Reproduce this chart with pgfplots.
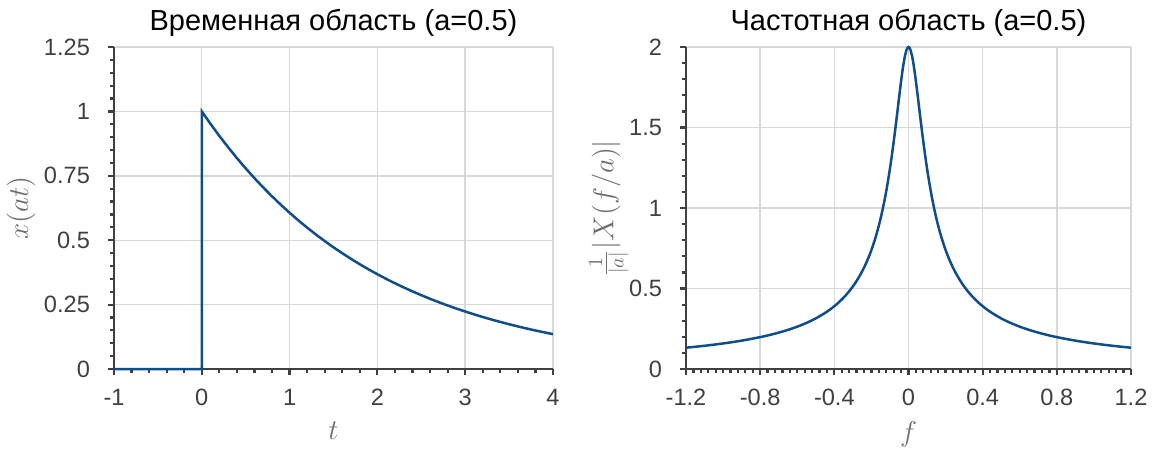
\documentclass[border=0pt]{standalone}
\usepackage{fontspec}
\setmainfont{Liberation Sans}
\usepackage{pgfplots}
\pgfplotsset{compat=1.18}
\definecolor{lineblue}{RGB}{16,78,139}
\definecolor{axgray}{RGB}{64,64,64}
\definecolor{lblgray}{RGB}{110,110,110}
\definecolor{gridgray}{RGB}{216,216,216}
\pgfplotsset{
  mystyle/.style={
    scale only axis,
    height=161pt,
    axis lines*=left,
    axis line style={axgray, line width=1.1pt},
    tick align=outside,
    major tick length=3pt,
    minor tick length=2.2pt,
    tick style={axgray, line width=1.1pt},
    grid=major,
    major grid style={gridgray, line width=0.7pt},
    ticklabel style={font=\fontsize{11.8}{13}\selectfont, text=axgray},
    xticklabel style={yshift=-3.5pt},
    yticklabel style={xshift=-5.5pt},
    label style={text=lblgray},
    title style={font=\fontsize{14.5}{16}\selectfont, text=black, yshift=-4.5pt},
    xlabel style={font=\fontsize{14}{16}\selectfont, yshift=-1pt},
    ylabel style={font=\fontsize{14}{16}\selectfont},
    clip=false,
  }
}
\begin{document}
\begin{tikzpicture}
\path[use as bounding box] (-57pt,-41.5pt) rectangle (521.5pt,184.5pt);
\begin{axis}[mystyle,
  at={(0pt,0pt)}, anchor=south west,
  width=219.5pt,
  xmin=-1, xmax=4, ymin=0, ymax=1.25,
  xtick={-1,0,1,2,3,4}, xticklabels={-1,0,1,2,3,4},
  ytick={0,0.25,0.5,0.75,1,1.25}, yticklabels={0,0.25,0.5,0.75,1,1.25},
  minor x tick num=4, minor y tick num=4,
  title={Временная область (a=0.5)},
  xlabel={$t$}, ylabel={$x(at)$},
  ylabel style={yshift=-2.5pt},
]
\addplot[lineblue, line width=1.25pt] coordinates {
(-1,0) (0,0) (0,1)
(0.1,0.951229) (0.2,0.904837) (0.3,0.860708) (0.4,0.818731) (0.5,0.778801)
(0.6,0.740818) (0.7,0.704688) (0.8,0.670320) (0.9,0.637628) (1.0,0.606531)
(1.1,0.576950) (1.2,0.548812) (1.3,0.522046) (1.4,0.496585) (1.5,0.472367)
(1.6,0.449329) (1.7,0.427415) (1.8,0.406570) (1.9,0.386741) (2.0,0.367879)
(2.1,0.349938) (2.2,0.332871) (2.3,0.316637) (2.4,0.301194) (2.5,0.286505)
(2.6,0.272532) (2.7,0.259240) (2.8,0.246597) (2.9,0.234570) (3.0,0.223130)
(3.1,0.212248) (3.2,0.201897) (3.3,0.192050) (3.4,0.182684) (3.5,0.173774)
(3.6,0.165299) (3.7,0.157237) (3.8,0.149569) (3.9,0.142274) (4.0,0.135335)
};
\end{axis}
\begin{axis}[mystyle,
  at={(286pt,0pt)}, anchor=south west,
  width=222.5pt,
  xmin=-1.2, xmax=1.2, ymin=0, ymax=2,
  xtick={-1.2,-0.8,-0.4,0,0.4,0.8,1.2}, xticklabels={-1.2,-0.8,-0.4,0,0.4,0.8,1.2},
  ytick={0,0.5,1,1.5,2}, yticklabels={0,0.5,1,1.5,2},
  minor x tick num=9, minor y tick num=4,
  title={Частотная область (a=0.5)},
  xlabel={$f$}, ylabel={$\frac{1}{|a|}|X(f/a)|$},
  ylabel style={yshift=-6.5pt},
]
\addplot[lineblue, line width=1.25pt, smooth] coordinates {
(-1.2,0.13234) (-1.1,0.14431) (-1.0,0.15865) (-0.9,0.17615) (-0.8,0.19797)
(-0.75,0.21102) (-0.7,0.22591) (-0.65,0.24304) (-0.6,0.26296) (-0.55,0.28639)
(-0.5,0.31435) (-0.45,0.34828) (-0.42,0.37232) (-0.4,0.39024) (-0.38,0.40994)
(-0.36,0.43168) (-0.34,0.45579) (-0.32,0.48266) (-0.3,0.51278) (-0.28,0.54676)
(-0.26,0.58533) (-0.24,0.62945) (-0.23,0.65395) (-0.22,0.68030) (-0.21,0.70870)
(-0.2,0.73939) (-0.19,0.77263) (-0.18,0.80869) (-0.17,0.84791) (-0.16,0.89064)
(-0.15,0.93730) (-0.14,0.98832) (-0.13,1.04417) (-0.12,1.10533) (-0.11,1.17226)
(-0.1,1.24535) (-0.09,1.32479) (-0.08,1.41046)
(-0.07,1.50169) (-0.06,1.59694) (-0.05,1.69346) (-0.04,1.78695) (-0.03,1.87143)
(-0.02,1.93968) (-0.01,1.98439) (-0.005,1.99606) (0,2)
(0.005,1.99606) (0.01,1.98439) (0.02,1.93968) (0.03,1.87143) (0.04,1.78695)
(0.05,1.69346) (0.06,1.59694) (0.07,1.50169) (0.08,1.41046) (0.09,1.32479)
(0.1,1.24535) (0.11,1.17226) (0.12,1.10533) (0.13,1.04417) (0.14,0.98832)
(0.15,0.93730) (0.16,0.89064) (0.17,0.84791) (0.18,0.80869) (0.19,0.77263)
(0.2,0.73939) (0.21,0.70870) (0.22,0.68030) (0.23,0.65395) (0.24,0.62945)
(0.26,0.58533) (0.28,0.54676) (0.3,0.51278) (0.32,0.48266) (0.34,0.45579)
(0.36,0.43168) (0.38,0.40994) (0.4,0.39024) (0.42,0.37232) (0.45,0.34828)
(0.5,0.31435) (0.55,0.28639) (0.6,0.26296) (0.65,0.24304) (0.7,0.22591)
(0.75,0.21102) (0.8,0.19797) (0.9,0.17615)
(1.0,0.15865) (1.1,0.14431) (1.2,0.13234)
};
\end{axis}
\end{tikzpicture}
\end{document}
